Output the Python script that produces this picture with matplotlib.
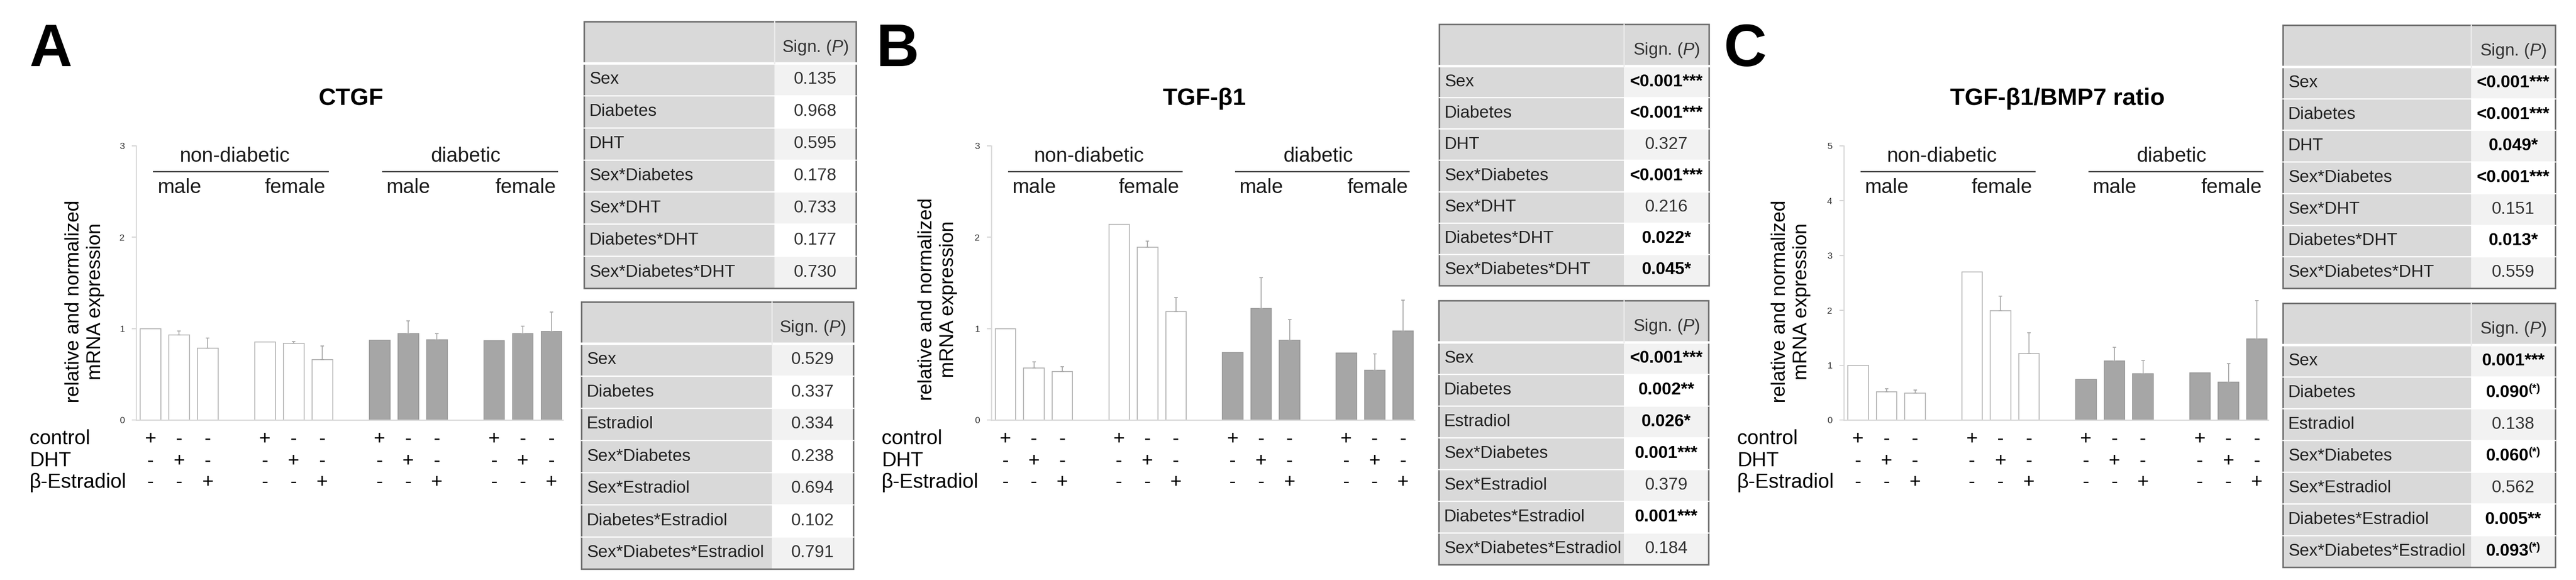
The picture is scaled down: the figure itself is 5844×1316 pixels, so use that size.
import matplotlib
matplotlib.use("Agg")
import matplotlib.pyplot as plt
from matplotlib.patches import Rectangle

plt.rcParams['font.family'] = ['Liberation Sans', 'DejaVu Sans']
plt.rcParams['mathtext.fontset'] = 'custom'
plt.rcParams['mathtext.rm'] = 'Liberation Sans'
plt.rcParams['mathtext.it'] = 'Liberation Sans:italic'
plt.rcParams['mathtext.bf'] = 'Liberation Sans:bold'

# ---- data ----
treatments = ['control', 'DHT', 'β-Estradiol']
control_signs = ['+', '-', '-'] * 4
dht_signs = ['-', '+', '-'] * 4
e2_signs = ['-', '-', '+'] * 4

ctgf_mean = [1.00, 0.93, 0.785, 0.854, 0.84, 0.66, 0.874, 0.947, 0.88, 0.866, 0.947, 0.971]
ctgf_err = [0, 0.045, 0.11, 0, 0.017, 0.15, 0, 0.14, 0.067, 0, 0.08, 0.21]

tgf_mean = [1.00, 0.567, 0.531, 2.143, 1.89, 1.188, 0.739, 1.22, 0.873, 0.735, 0.543, 0.976]
tgf_err = [0, 0.07, 0.053, 0, 0.07, 0.151, 0, 0.34, 0.225, 0, 0.179, 0.338]

ratio_mean = [1.00, 0.514, 0.493, 2.70, 1.99, 1.21, 0.743, 1.08, 0.845, 0.858, 0.689, 1.48]
ratio_err = [0, 0.06, 0.054, 0, 0.27, 0.38, 0, 0.25, 0.243, 0, 0.338, 0.70]

dht_terms = ['Sex', 'Diabetes', 'DHT', 'Sex*Diabetes', 'Sex*DHT',
             'Diabetes*DHT', 'Sex*Diabetes*DHT']
e2_terms = ['Sex', 'Diabetes', 'Estradiol', 'Sex*Diabetes', 'Sex*Estradiol',
            'Diabetes*Estradiol', 'Sex*Diabetes*Estradiol']

ctgf_dht_p = ['0.135', '0.968', '0.595', '0.178', '0.733', '0.177', '0.730']
ctgf_e2_p = ['0.529', '0.337', '0.334', '0.238', '0.694', '0.102', '0.791']
tgf_dht_p = ['<0.001***', '<0.001***', '0.327', '<0.001***', '0.216', '0.022*', '0.045*']
tgf_e2_p = ['<0.001***', '0.002**', '0.026*', '0.001***', '0.379', '0.001***', '0.184']
ratio_dht_p = ['<0.001***', '<0.001***', '0.049*', '<0.001***', '0.151', '0.013*', '0.559']
ratio_e2_p = ['0.001***', '0.090(*)', '0.138', '0.060(*)', '0.562', '0.005**', '0.093(*)']

# ---- figure ----
W, H = 5844, 1316
fig = plt.figure(figsize=(W / 100, H / 100), dpi=100)


def fx(x):
    return x / W


def fy(y):
    return 1 - y / H


ov = fig.add_axes([0, 0, 1, 1])
ov.set_xlim(0, W)
ov.set_ylim(H, 0)
ov.axis('off')

pos = [0, 1, 2, 4, 5, 6, 8, 9, 10, 12, 13, 14]
bar_colors = ['white'] * 6 + ['#a6a6a6'] * 6
edge_colors = ['#b4b4b4'] * 6 + ['#9a9a9a'] * 6
AX_TOP, AX_BOT = 331, 953
sign_rows = [996, 1046, 1095]


def draw_bars(left, width, title, mean, err, ymax, row_x, ylab_xy):
    ax = fig.add_axes([fx(left), fy(AX_BOT), width / W, (AX_BOT - AX_TOP) / H])
    ax.bar(pos, mean, width=0.72, color=bar_colors, edgecolor=edge_colors,
           linewidth=1.5, zorder=2)
    ex = [p for p, e in zip(pos, err) if e > 0]
    ey = [m for m, e in zip(mean, err) if e > 0]
    ee = [e for e in err if e > 0]
    ax.errorbar(ex, ey, yerr=[[0] * len(ee), ee], fmt='none', ecolor='#a8a8a8',
                elinewidth=1.5, capsize=3, capthick=1.5, zorder=3)
    ax.set_xlim(-0.5, 14.4)
    ax.set_ylim(0, ymax)
    ax.set_yticks(range(ymax + 1))
    ax.set_xticks([])
    for s in ['top', 'right']:
        ax.spines[s].set_visible(False)
    for s in ['left', 'bottom']:
        ax.spines[s].set_color('#dadada')
        ax.spines[s].set_linewidth(2)
    ax.tick_params(axis='y', length=7, width=1.5, color='#d0d0d0',
                   labelsize=15, labelcolor='#333333', pad=12)
    tr = ax.get_xaxis_transform()
    ax.text(7, 1.172, title, transform=tr, ha='center', va='center',
            fontsize=39, fontweight='bold')
    # group headers
    for name, (a, b), c in [('non-diabetic', (0.1, 6.2), 2.93),
                            ('diabetic', (8.1, 14.2), 11.0)]:
        ax.text(c, 0.962, name, transform=tr, ha='center', va='center',
                fontsize=33, color='#1a1a1a')
        ax.plot([a, b], [0.907, 0.907], transform=tr, color='#404040',
                lw=2.2, clip_on=False)
    for name, c in [('male', 1.0), ('female', 5.05), ('male', 9.0), ('female', 13.1)]:
        ax.text(c, 0.848, name, transform=tr, ha='center', va='center',
                fontsize=33, color='#1a1a1a')
    # treatment rows
    for r, signs in enumerate([control_signs, dht_signs, e2_signs]):
        yy = (AX_BOT - sign_rows[r]) / (AX_BOT - AX_TOP)
        for p, s in zip(pos, signs):
            ax.text(p, yy, s, transform=tr, ha='center', va='center',
                    fontsize=32, clip_on=False)
        fig.text(fx(row_x), fy(sign_rows[r]), treatments[r], ha='left',
                 va='center', fontsize=33)
    fig.text(fx(ylab_xy[0]), fy(ylab_xy[1]), 'relative and normalized\nmRNA expression',
             rotation=90, ha='center', va='center', fontsize=32,
             linespacing=1.25, multialignment='center')
    return ax


def draw_value(xc, yc, val):
    bold = '*' in val
    if val.endswith('(*)'):
        main, sup = val[:-3], '(*)'
    else:
        main, sup = val, ''
    weight = 'bold' if bold else 'normal'
    color = 'black' if bold else '#333333'
    t1 = ov.text(xc, yc, main, ha='left', va='center', fontsize=28,
                 fontweight=weight, color=color)
    r = fig.canvas.get_renderer()
    w1 = t1.get_window_extent(r).width
    w2 = 0
    if sup:
        t2 = ov.text(xc, yc - 9, sup, ha='left', va='center', fontsize=18,
                     fontweight='bold', color=color)
        w2 = t2.get_window_extent(r).width
    start = xc - (w1 + w2) / 2
    t1.set_x(start)
    if sup:
        t2.set_x(start + w1)


def draw_table(x0, xs, x1, y0, y1, labels, values):
    hh = 95
    rh = (y1 - y0 - hh) / len(labels)
    ov.add_patch(Rectangle((x0, y0), x1 - x0, hh, fc='#d9d9d9', ec='none'))
    ov.text((xs + x1) / 2, y0 + hh * 0.62, r'Sign. ($\mathit{P}$)', ha='center',
            va='center', fontsize=28, color='#333333')
    for i, (lab, val) in enumerate(zip(labels, values)):
        top = y0 + hh + i * rh
        ov.add_patch(Rectangle((x0, top), xs - x0, rh, fc='#d9d9d9', ec='none'))
        ov.add_patch(Rectangle((xs, top), x1 - xs, rh,
                               fc='#f2f2f2' if i % 2 == 0 else 'white', ec='none'))
        ov.plot([x0, x1], [top, top], color='white', lw=4 if i == 0 else 2)
        ov.text(x0 + 12, top + rh / 2, lab, ha='left', va='center',
                fontsize=28, color='#222222')
        draw_value((xs + x1) / 2, top + rh / 2, val)
    ov.plot([xs, xs], [y0, y0 + hh], color='#ececec', lw=2)
    ov.add_patch(Rectangle((x0, y0), x1 - x0, y1 - y0, fc='none',
                           ec='#6e6e6e', lw=2.5))


# panel A
fig.text(fx(67), fy(150), 'A', fontsize=97, fontweight='bold', va='baseline')
draw_bars(309, 968, 'CTGF', ctgf_mean, ctgf_err, 3, 67, (192, 684))
draw_table(1325, 1757, 1942, 49, 654, dht_terms, ctgf_dht_p)
draw_table(1319, 1751, 1936, 685, 1291, e2_terms, ctgf_e2_p)

# panel B
fig.text(fx(1988), fy(150), 'B', fontsize=97, fontweight='bold', va='baseline')
draw_bars(2249, 960, 'TGF-β1', tgf_mean, tgf_err, 3, 2000, (2127, 679))
draw_table(3265, 3684, 3877, 55, 648, dht_terms, tgf_dht_p)
draw_table(3264, 3684, 3876, 682, 1281, e2_terms, tgf_e2_p)

# panel C
fig.text(fx(3910), fy(150), 'C', fontsize=97, fontweight='bold', va='baseline')
draw_bars(4183, 963, 'TGF-β1/BMP7 ratio', ratio_mean, ratio_err, 5, 3941, (4063, 684))
draw_table(5179, 5606, 5797, 57, 654, dht_terms, ratio_dht_p)
draw_table(5179, 5606, 5797, 688, 1287, e2_terms, ratio_e2_p)

fig.savefig('out.png', dpi=100)
